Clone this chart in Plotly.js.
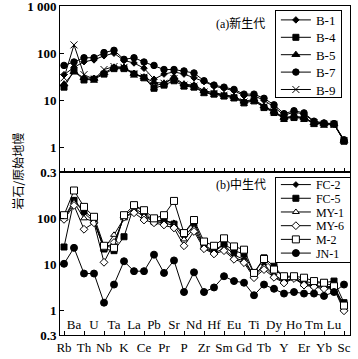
<!DOCTYPE html>
<html>
<head>
<meta charset="utf-8">
<script src="https://cdn.plot.ly/plotly-3.0.1.min.js"></script>
<style>
  html, body { margin: 0; padding: 0; background: #fff; }
  #chart { width: 358px; height: 359px; }
</style>
</head>
<body>
<div id="chart"></div>
<script>
// Elementos (orden del diagrama de araña)
const elements = ['Rb','Ba','Th','U','Nb','Ta','K','La','Ce','Pb','Pr','Sr','P','Nd','Zr',
                  'Hf','Sm','Eu','Gd','Ti','Tb','Dy','Y','Ho','Er','Tm','Yb','Lu','Sc'];

// (a) 新生代
const b1 = [35, 50, 66, 72, 88, 100, 70, 62, 48, 28, 36, 40, 36, 30, 25, 20, 18, 16, 12.5, 12.5, 10, 7.2, 4.8, 5.6, 5.1, 3.5, 3.3, 3.1, 1.4];
const b4 = [19, 42, 27, 28, 36, 47, 47, 36, 30, 18, 21, 26, 20, 19, 14.5, 13.5, 12.3, 11.2, 8.8, 9.7, 7, 5.5, 4.1, 4.3, 4.1, 3.2, 3.1, 3.1, 1.35];
const b5 = [22, 40, 30, 29, 38, 50, 50, 37, 31, 24, 23, 31, 22, 21, 16, 14.5, 13, 12, 9.5, 10.5, 7.5, 5.8, 4.3, 4.6, 4.3, 3.3, 3.2, 3.1, 1.4];
const b7 = [55, 65, 80, 80, 103, 115, 74, 80, 65, 55, 45, 45, 42, 38, 26, 21, 19, 17, 13.5, 13.5, 11, 8, 5.2, 6, 5.4, 3.6, 3.3, 3.2, 1.45];
const b9 = [30, 150, 35, 28, 45, 52, 50, 36, 31, 20, 23, 29, 21, 20, 15, 14, 12.8, 11.6, 9.2, 10, 7.3, 5.7, 4.2, 4.5, 4.2, 3.3, 3.1, 3.1, 1.4];

// (b) 中生代
const fc2 = [100, 250, 130, 85, 24, 28, 110, 170, 120, 88, 90, 80, 40, 70, 24, 19, 27, 16, 13, 5.8, 10, 6, 4.4, 5.1, 3.9, 3.6, 3.3, 3.4, 1.2];
const fc5 = [24, 245, 145, 95, 21.7, 20, 40, 190, 140, 85, 90, 75, 48, 85, 26, 20, 28, 20, 17, 6.6, 14, 9.2, 5.3, 5.4, 4.3, 4.0, 4.05, 4.4, 1.5];
const my1 = [98, 220, 100, 85, 22, 44, 100, 150, 110, 85, 80, 70, 35, 60, 23, 18, 22, 14, 12, 5.6, 9, 5.6, 4.2, 5.2, 3.7, 3.4, 3.2, 3.2, 1.1];
const my6 = [95, 190, 58, 80, 11.2, 30, 105, 132, 92, 80, 72, 62, 25.5, 52, 22, 17, 20, 13, 11, 5.2, 7.8, 5.3, 4.0, 5.0, 3.6, 3.3, 3.0, 3.0, 1.0];
const m2 = [117, 400, 177, 108, 25.5, 23, 117, 193, 150, 100, 117, 238, 48, 92, 31.5, 25.5, 37, 24.7, 21, 6.6, 13.2, 7.8, 5.6, 5.6, 5.2, 4.4, 4.05, 3.4, 1.3];
const jn1 = [10.4, 23, 6.4, 6.4, 1.5, 3.7, 11.8, 7.2, 7.2, 16.4, 6.6, 12.3, 2.55, 6.8, 2.55, 3.2, 5.6, 4.4, 4.05, 2.17, 3.7, 3.0, 2.36, 2.55, 2.36, 2.36, 2.1, 2.55, 3.7];

const yTickVals = [0.3, 1, 10, 100, 1000];
const yTickText = ['0.3', '1', '10', '100', '1 000'];

const idx = elements.map((_, i) => i);
const lowerIdx = idx.filter(i => i % 2 === 0);
const upperIdx = idx.filter(i => i % 2 === 1);

function serie(name, y, symbol, size, xa, ya, leg, fill) {
    return {
        x: idx, y: y, name: name,
        type: 'scatter', mode: 'lines+markers',
        xaxis: xa, yaxis: ya, legend: leg,
        line: {color: 'black', width: 1},
        marker: {symbol: symbol, size: size, color: fill || 'black',
                 line: {color: 'black', width: 1}}
    };
}

const traces = [
    serie('B-1', b1, 'diamond', 5, 'x', 'y', 'legend'),
    serie('B-4', b4, 'square', 6, 'x', 'y', 'legend'),
    serie('B-5', b5, 'triangle-up', 7, 'x', 'y', 'legend'),
    serie('B-7', b7, 'circle', 6.5, 'x', 'y', 'legend'),
    serie('B-9', b9, 'x-thin', 7, 'x', 'y', 'legend'),
    serie('FC-2', fc2, 'diamond', 4.5, 'x2', 'y2', 'legend2'),
    serie('FC-5', fc5, 'square', 6, 'x2', 'y2', 'legend2'),
    serie('MY-1', my1, 'triangle-up', 6, 'x2', 'y2', 'legend2', 'white'),
    serie('MY-6', my6, 'diamond', 6, 'x2', 'y2', 'legend2', 'white'),
    serie('M-2', m2, 'square', 7, 'x2', 'y2', 'legend2', 'white'),
    serie('JN-1', jn1, 'circle', 7, 'x2', 'y2', 'legend2'),
    // eje superpuesto para la fila superior de etiquetas
    {x: [], y: [], type: 'scatter', mode: 'markers', xaxis: 'x3', yaxis: 'y2',
     showlegend: false, hoverinfo: 'skip'}
];

const serif = 'Liberation Serif, Times New Roman, serif';
const cjk = 'Liberation Serif, Noto Sans CJK SC, serif';
const xRange = [-0.4, elements.length - 0.4];
const yRange = [Math.log10(0.3), 3.002];
const split = 0.4954;

const xBase = {
    range: xRange, showgrid: false, zeroline: false,
    showline: true, linecolor: 'black', linewidth: 1, mirror: true,
    ticks: 'inside', ticklen: 4, tickcolor: 'black',
    tickvals: idx
};
const yBase = {
    type: 'log', range: yRange, showgrid: false, zeroline: false,
    showline: true, linecolor: 'black', linewidth: 1, mirror: true,
    ticks: 'inside', ticklen: 4, tickcolor: 'black',
    ticklabeloverflow: 'allow',
    tickfont: {family: serif, size: 13, color: 'black', weight: 'bold'}
};

const legendBase = {
    xanchor: 'left', yanchor: 'top', bgcolor: 'white',
    bordercolor: 'black', borderwidth: 1,
    tracegroupgap: 0, itemwidth: 30
};

const layout = {
    width: 358, height: 359,
    margin: {l: 60, r: 8, t: 6, b: 24},
    paper_bgcolor: 'white', plot_bgcolor: 'white',
    showlegend: true,
    xaxis: Object.assign({}, xBase, {anchor: 'y', domain: [0, 1], showticklabels: false}),
    yaxis: Object.assign({}, yBase, {anchor: 'x', domain: [split, 1],
        tickvals: yTickVals, ticktext: yTickText}),
    xaxis2: Object.assign({}, xBase, {anchor: 'y2', domain: [0, 1],
        tickvals: lowerIdx, ticktext: lowerIdx.map(i => elements[i]),
        tickfont: {family: serif, size: 13, color: 'black'}}),
    xaxis3: {overlaying: 'x2', anchor: 'free', position: 0.062, range: xRange, visible: true,
        showline: false, showgrid: false, zeroline: false, ticks: '',
        tickmode: 'array', tickvals: upperIdx, ticktext: upperIdx.map(i => elements[i]),
        side: 'bottom',
        tickfont: {family: serif, size: 13, color: 'black'}},
    yaxis2: Object.assign({}, yBase, {anchor: 'x2', domain: [0, split],
        tickvals: yTickVals.slice(0, 4), ticktext: yTickText.slice(0, 4)}),
    legend: Object.assign({}, legendBase, {x: 0.741, y: 0.988,
        font: {family: serif, size: 13, color: 'black'}}),
    legend2: Object.assign({}, legendBase, {x: 0.741, y: 0.48,
        font: {family: serif, size: 12, color: 'black'}}),
    annotations: [
        {text: '(a)新生代', xref: 'paper', yref: 'paper', x: 0.624, y: 0.948,
         xanchor: 'center', yanchor: 'middle',
         showarrow: false, font: {family: cjk, size: 12, color: 'black'}},
        {text: '(b)中生代', xref: 'paper', yref: 'paper', x: 0.624, y: 0.456,
         xanchor: 'center', yanchor: 'middle',
         showarrow: false, font: {family: cjk, size: 12, color: 'black'}},
        {text: '岩石/原始地幔', xref: 'paper', yref: 'paper', x: -0.145, y: 0.5,
         xanchor: 'center', yanchor: 'middle',
         textangle: -90, showarrow: false,
         font: {family: 'Noto Sans CJK SC', size: 12, color: 'black'}}
    ]
};

// Compactar las leyendas (Plotly no baja de 19 px por fila)
function compactLegend(cls, firstShift, step, boxHeight) {
    const g = document.querySelector('g.' + cls);
    if (!g) return;
    g.querySelectorAll('g.traces').forEach((t, i) => {
        const m = /translate\(([^,\s]+)[,\s]+([^)]+)\)/.exec(t.getAttribute('transform') || '');
        if (!m) return;
        const x = parseFloat(m[1]);
        const y0 = parseFloat(m[2]);
        const y = (i === 0 ? y0 : y0 - i * 19) + firstShift + i * step;
        t.setAttribute('transform', 'translate(' + x + ',' + y + ')');
    });
    const bg = g.querySelector('rect.bg');
    if (bg) bg.setAttribute('height', boxHeight);
}

Plotly.newPlot('chart', traces, layout, {displayModeBar: false, staticPlot: true}).then(() => {
    compactLegend('legend', -6, 16.5, 87);
    compactLegend('legend2', -8, 13.7, 85);
});
</script>
</body>
</html>
